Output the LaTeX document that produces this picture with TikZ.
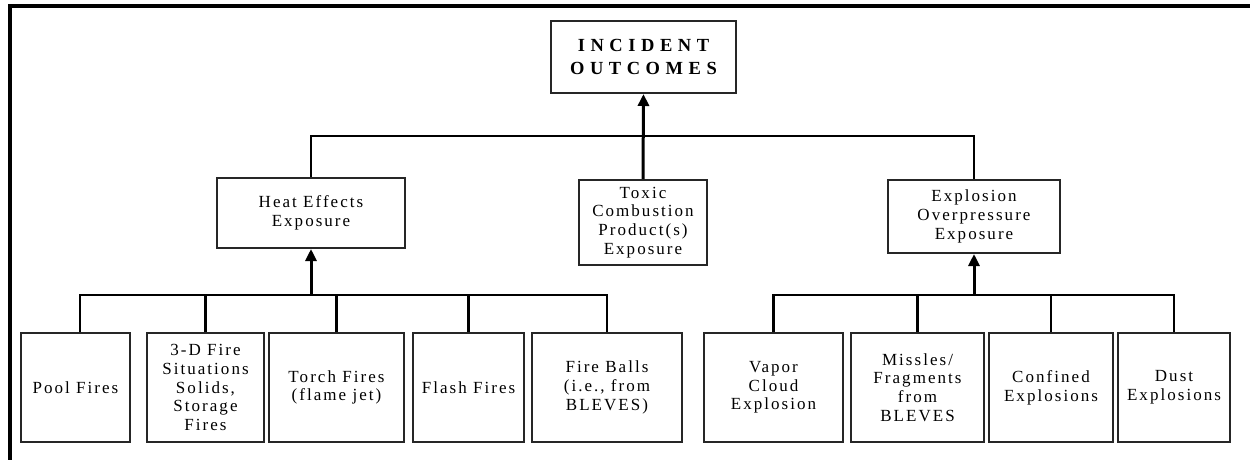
\documentclass[tikz,border=0pt]{standalone}
\usepackage{fontspec}
\setmainfont{Liberation Serif}[LetterSpace=12]
\newfontfamily\headfont{Liberation Serif}[LetterSpace=30]
\usetikzlibrary{arrows.meta}
\begin{document}
\begin{tikzpicture}[x=1pt,y=-1pt,
  box/.style={draw=black!85,line width=2pt,rectangle,inner sep=0pt,align=center,
    font=\fontsize{17}{18.7}\selectfont},
  link/.style={draw=black,line width=2.4pt},
  uparrow/.style={draw=black,line width=3pt,
    arrows={-Triangle[length=12pt,width=11pt]}}]
\useasboundingbox (0,0) rectangle (1250,460);
% outer frame (only its left and top edges lie inside the page)
\draw[line width=3.5pt] (10,470) -- (10,6) -- (1260,6);

% top level
\node[box,minimum width=185pt,minimum height=72pt,font=\headfont\bfseries\fontsize{18.5}{22.7}\selectfont]
  (top) at (643.5,57) {INCIDENT\\OUTCOMES};

% middle level
\node[box,minimum width=188pt,minimum height=70pt] (heat) at (311,213) {Heat Effects\\Exposure};
\node[box,minimum width=128pt,minimum height=85pt] (toxic) at (643,222.5) {Toxic\\Combustion\\Product(s)\\Exposure};
\node[box,minimum width=172pt,minimum height=73pt] (expl) at (974,216.5) {Explosion\\Overpressure\\Exposure};

% bottom level
\tikzset{leaf/.style={box,minimum height=109pt}}
\node[leaf,minimum width=109pt] (pool) at (75.5,387.5) {Pool Fires};
\node[leaf,minimum width=117pt] (threed) at (205.5,387.5) {3-D Fire\\Situations\\Solids,\\Storage\\Fires};
\node[leaf,minimum width=135pt] (torch) at (336.5,387.5) {Torch Fires\\(flame jet)};
\node[leaf,minimum width=111pt] (flash) at (468.5,387.5) {Flash Fires};
\node[leaf,minimum width=150pt] (balls) at (607,387.5) {Fire Balls\\(i.e., from\\BLEVES)};
\node[leaf,minimum width=139pt] (vapor) at (773.5,387.5) {Vapor\\Cloud\\Explosion};
\node[leaf,minimum width=133pt] (missle) at (917.5,387.5) {Missles/\\Fragments\\from\\BLEVES};
\node[leaf,minimum width=124pt] (confined) at (1051,387.5) {Confined\\Explosions};
\node[leaf,minimum width=112pt] (dust) at (1174,387.5) {Dust\\Explosions};

% bus levels
\coordinate (upper) at (0,136);
\coordinate (lower) at (0,295);

% middle level joined to the top
\draw[link] (heat.north) -- (heat.north |- upper) -- (expl.north |- upper) -- (expl.north);
\draw[uparrow] (toxic.north) -- (top.south);

% heat effects branch
\draw[link] ([xshift=4.5pt]pool.north) -- ([xshift=4.5pt]pool.north |- lower) -- (balls.north |- lower) -- (balls.north);
\draw[link] (threed.north) -- (threed.north |- lower);
\draw[link] (torch.north) -- (torch.north |- lower);
\draw[link] (flash.north) -- (flash.north |- lower);
\draw[uparrow] (heat.south |- lower) -- (heat.south);

% explosion branch
\draw[link] (vapor.north) -- (vapor.north |- lower) -- (dust.north |- lower) -- (dust.north);
\draw[link] (missle.north) -- (missle.north |- lower);
\draw[link] (confined.north) -- (confined.north |- lower);
\draw[uparrow] (expl.south |- lower) -- (expl.south);
\end{tikzpicture}
\end{document}
